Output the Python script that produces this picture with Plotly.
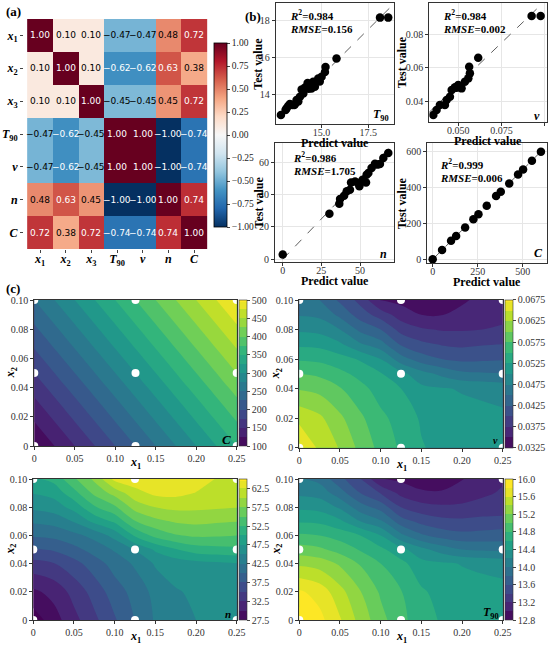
import plotly.graph_objects as go

W, H = 550, 645
SERIF = "Liberation Serif"

# ---------------- (a) correlation matrix ----------------
var_ticktext = [
    "<b><i>x</i><sub>1</sub></b>", "<b><i>x</i><sub>2</sub></b>", "<b><i>x</i><sub>3</sub></b>",
    "<b><i>T</i><sub>90</sub></b>", "<b><i>v</i></b>", "<b><i>n</i></b>", "<b><i>C</i></b>",
]
corr_x1 = [1.00, 0.10, 0.10, -0.47, -0.47, 0.48, 0.72]
corr_x2 = [0.10, 1.00, 0.10, -0.62, -0.62, 0.63, 0.38]
corr_x3 = [0.10, 0.10, 1.00, -0.45, -0.45, 0.45, 0.72]
corr_t90 = [-0.47, -0.62, -0.45, 1.00, 1.00, -1.00, -0.74]
corr_v = [-0.47, -0.62, -0.45, 1.00, 1.00, -1.00, -0.74]
corr_n = [0.48, 0.63, 0.45, -1.00, -1.00, 1.00, 0.74]
corr_c = [0.72, 0.38, 0.72, -0.74, -0.74, 0.74, 1.00]
corr = [corr_x1, corr_x2, corr_x3, corr_t90, corr_v, corr_n, corr_c]

rdbu_r = [
    [0.0, "#053061"], [0.1, "#2166ac"], [0.2, "#4393c3"], [0.3, "#92c5de"],
    [0.4, "#d1e5f0"], [0.5, "#f7f7f7"], [0.6, "#fddbc7"], [0.7, "#f4a582"],
    [0.8, "#d6604d"], [0.9, "#b2182b"], [1.0, "#67001f"],
]

# ---------------- (b) predicted vs test ----------------
t90_pred = [12.82, 13.07, 13.12, 13.21, 13.30, 13.43, 13.54, 13.57, 13.66, 13.75, 13.84, 13.93,
            14.02, 14.11, 14.25, 14.30, 14.46, 14.55, 14.64, 14.82, 14.90, 15.00, 15.18, 15.21,
            15.80, 18.13, 18.57]
t90_test = [12.89, 13.16, 13.25, 13.38, 13.48, 13.43, 13.43, 13.48, 13.70, 13.62, 13.87, 14.27,
            14.05, 14.37, 14.62, 14.30, 14.32, 14.68, 14.41, 14.86, 14.70, 14.95, 15.21, 15.48,
            15.93, 18.13, 18.13]
v_pred = [0.0356, 0.0375, 0.0394, 0.0423, 0.0433, 0.0452, 0.0462, 0.0481, 0.0500, 0.0490,
          0.0519, 0.0538, 0.0558, 0.0567, 0.0563, 0.0615, 0.0923, 0.0975]
v_test = [0.0316, 0.0346, 0.0376, 0.0376, 0.0406, 0.0426, 0.0466, 0.0482, 0.0496, 0.0480,
          0.0476, 0.0516, 0.0536, 0.0566, 0.0606, 0.0660, 0.0910, 0.0910]
n_pred = [0.0, 30.2, 36.6, 37.1, 39.7, 41.4, 43.5, 44.2, 46.8, 48.9, 49.6, 51.7, 53.9, 54.3,
          55.4, 57.5, 59.7, 61.2, 62.9, 65.1, 68.3]
n_test = [2.9, 28.2, 34.4, 37.3, 39.4, 42.1, 43.1, 47.6, 48.2, 47.2, 45.2, 49.3, 47.6, 52.4,
          53.4, 56.5, 59.2, 58.6, 59.0, 62.7, 65.8]
c_pred = [0, 52, 102, 130, 180, 226, 254, 300, 352, 378, 425, 474, 502, 551, 601]
c_test = [0, 52, 104, 130, 178, 223, 252, 299, 353, 377, 423, 473, 501, 550, 600]

fit_r2 = ["0.984", "0.984", "0.986", "0.999"]
fit_rmse = ["0.156", "0.002", "1.705", "0.006"]

# ---------------- (c) response surfaces ----------------
grid_x1 = [0, 0.025, 0.05, 0.075, 0.1, 0.125, 0.15, 0.175, 0.2, 0.225, 0.25]
grid_x2 = [0, 0.02, 0.04, 0.05, 0.06, 0.07, 0.08, 0.09, 0.10]

c_x1 = [0, 0.05, 0.10, 0.15, 0.20, 0.25]
c_x2 = [0, 0.02, 0.04, 0.06, 0.08, 0.10]
c_surface = [
    [100, 150, 200, 250, 300, 350],
    [130, 180, 230, 280, 330, 380],
    [160, 210, 260, 310, 360, 410],
    [190, 240, 290, 340, 390, 440],
    [220, 270, 320, 370, 420, 470],
    [250, 300, 350, 400, 450, 500],
]

v_surface = [
    [0.0675, 0.0645, 0.0623, 0.0593, 0.0567, 0.0546, 0.0527, 0.0518, 0.0512, 0.0509, 0.0507],
    [0.0643, 0.0630, 0.0605, 0.0580, 0.0556, 0.0540, 0.0522, 0.0512, 0.0509, 0.0507, 0.0505],
    [0.0598, 0.0592, 0.0577, 0.0558, 0.0539, 0.0525, 0.0506, 0.0502, 0.0498, 0.0495, 0.0491],
    [0.0575, 0.0570, 0.0557, 0.0542, 0.0527, 0.0507, 0.0485, 0.0469, 0.0456, 0.0453, 0.0451],
    [0.0547, 0.0544, 0.0535, 0.0522, 0.0500, 0.0461, 0.0437, 0.0425, 0.0419, 0.0421, 0.0423],
    [0.0520, 0.0518, 0.0504, 0.0478, 0.0460, 0.0422, 0.0406, 0.0398, 0.0395, 0.0398, 0.0400],
    [0.0496, 0.0492, 0.0475, 0.0444, 0.0425, 0.0391, 0.0378, 0.0373, 0.0373, 0.0375, 0.0377],
    [0.0473, 0.0469, 0.0444, 0.0413, 0.0389, 0.0363, 0.0350, 0.0349, 0.0357, 0.0366, 0.0371],
    [0.0458, 0.0450, 0.0420, 0.0392, 0.0348, 0.0343, 0.0337, 0.0337, 0.0346, 0.0357, 0.0367],
]

n_surface = [
    [26.0, 28.9, 31.7, 34.4, 37.2, 40.1, 42.8, 44.3, 45.0, 45.4, 45.6],
    [29.5, 30.8, 33.4, 36.0, 38.8, 40.9, 43.3, 44.8, 45.4, 45.6, 45.8],
    [34.2, 34.9, 36.6, 38.8, 41.0, 42.9, 45.3, 46.1, 46.6, 47.0, 47.4],
    [37.2, 37.8, 39.2, 41.0, 42.8, 45.2, 47.9, 49.8, 51.3, 51.7, 51.9],
    [40.3, 40.7, 41.8, 43.3, 45.9, 50.4, 53.3, 54.8, 55.4, 55.3, 55.0],
    [42.9, 43.4, 45.2, 48.2, 50.5, 54.9, 56.8, 57.8, 58.1, 57.8, 57.6],
    [45.5, 46.2, 48.4, 52.2, 54.5, 58.5, 60.0, 60.6, 60.5, 60.3, 60.1],
    [47.6, 48.4, 51.6, 55.6, 58.4, 61.6, 63.1, 63.2, 62.4, 61.3, 60.8],
    [49.6, 50.7, 54.6, 58.0, 63.2, 64.0, 64.6, 64.6, 63.6, 62.4, 61.2],
]

t90_surface = [
    [16.15, 15.86, 15.62, 15.33, 15.07, 14.86, 14.68, 14.58, 14.52, 14.49, 14.47],
    [15.83, 15.72, 15.47, 15.21, 14.97, 14.81, 14.63, 14.53, 14.49, 14.47, 14.46],
    [15.36, 15.31, 15.17, 14.98, 14.80, 14.66, 14.47, 14.43, 14.39, 14.36, 14.33],
    [15.09, 15.04, 14.92, 14.78, 14.65, 14.46, 14.26, 14.11, 14.00, 13.97, 13.95],
    [14.83, 14.80, 14.72, 14.60, 14.40, 14.05, 13.83, 13.72, 13.66, 13.67, 13.69],
    [14.58, 14.56, 14.44, 14.20, 14.03, 13.69, 13.54, 13.46, 13.44, 13.47, 13.48],
    [14.36, 14.33, 14.17, 13.89, 13.72, 13.40, 13.28, 13.24, 13.24, 13.26, 13.28],
    [14.16, 14.12, 13.89, 13.60, 13.39, 13.14, 13.03, 13.02, 13.09, 13.17, 13.22],
    [14.02, 13.94, 13.66, 13.41, 13.01, 12.96, 12.91, 12.91, 12.99, 13.09, 13.18],
]

design_x1 = [0, 0, 0, 0.125, 0.125, 0.125, 0.25, 0.25, 0.25]
design_x2 = [0, 0.05, 0.1, 0, 0.05, 0.1, 0, 0.05, 0.1]


def px(x):
    return x / W


def py(y):
    return 1 - y / H


def note(x, y, text, size, angle=0, anchor="center"):
    return dict(x=px(x), y=py(y), xref="paper", yref="paper", xanchor=anchor, yanchor="middle",
                showarrow=False, text=text, textangle=angle,
                font=dict(family=SERIF, size=size, color="black"))


fig = go.Figure()
annotations = []

# heatmap
fig.add_trace(go.Heatmap(
    z=corr, x=list(range(7)), y=list(range(7)), colorscale=rdbu_r, zmin=-1, zmax=1,
    xaxis="x", yaxis="y", showscale=True, hoverinfo="skip",
    colorbar=dict(x=px(214), xanchor="left", y=py(135), yanchor="middle", len=184 / H,
                  thickness=13, xpad=0, ypad=0, outlinewidth=0.8, outlinecolor="black",
                  tickvals=[-1, -0.75, -0.5, -0.25, 0, 0.25, 0.5, 0.75, 1],
                  tickformat=".2f", ticks="outside", ticklen=3,
                  tickfont=dict(family=SERIF, size=9.5, color="#222")),
))
for i, row in enumerate(corr):
    for j, val in enumerate(row):
        annotations.append(dict(
            x=j, y=i, xref="x", yref="y", showarrow=False,
            text=f"{val:.2f}".replace("-", "\u2212"),
            font=dict(family="DejaVu Sans", size=9, color="white" if abs(val) > 0.5 else "black"),
        ))

# scatter panels
panels_b = [
    dict(pred=t90_pred, test=t90_test, ax="2", xd=(275.7, 394), yd=(3.3, 124),
         xr=[12.54, 18.88], yr=[12.41, 18.9], xt=2.5, yt=2, xf=".1f", yf="d",
         tag="<b><i>T</i><sub>90</sub></b>", tagpos=(381, 115), txt=(288, 15), ylab=258),
    dict(pred=v_pred, test=v_test, ax="3", xd=(429.3, 546.7), yd=(2.7, 121.7),
         xr=[0.0333, 0.101], yr=[0.0276, 0.099], xt=0.025, yt=0.02, xf=".3f", yf=".2f",
         tag="<b><i>v</i></b>", tagpos=(537, 116), txt=(441, 15), ylab=402),
    dict(pred=n_pred, test=n_test, ax="4", xd=(275, 394), yd=(143.3, 261.7),
         xr=[-5, 72], yr=[-1.5, 71.8], xt=25, yt=20, xf="d", yf="d",
         tag="<b><i>n</i></b>", tagpos=(383, 254), txt=(291, 157), ylab=258),
    dict(pred=c_pred, test=c_test, ax="5", xd=(427.3, 546.7), yd=(143.3, 263.3),
         xr=[-30, 633], yr=[-22, 647], xt=250, yt=200, xf="d", yf="d",
         tag="<b><i>C</i></b>", tagpos=(538, 253), txt=(438, 164), ylab=402),
]
axis_style = dict(showline=True, mirror=True, linecolor="#333", linewidth=1, ticks="outside",
                  ticklen=3, tickcolor="#333", tickfont=dict(family=SERIF, size=10, color="#333"),
                  zeroline=False, automargin=False)
layout_axes = {}
for k, p in enumerate(panels_b):
    ax = p["ax"]
    lo = min(min(p["pred"]), min(p["test"]))
    hi = min(p["xr"][1], p["yr"][1])
    fig.add_trace(go.Scatter(x=[lo, hi], y=[lo, hi], mode="lines", xaxis="x" + ax, yaxis="y" + ax,
                             line=dict(color="#333", width=0.8, dash="dash"), showlegend=False))
    fig.add_trace(go.Scatter(x=p["pred"], y=p["test"], mode="markers", xaxis="x" + ax,
                             yaxis="y" + ax, marker=dict(color="black", size=8.5),
                             showlegend=False))
    layout_axes["xaxis" + ax] = dict(domain=[px(p["xd"][0]), px(p["xd"][1])], anchor="y" + ax,
                                     range=p["xr"], dtick=p["xt"], tick0=0, tickformat=p["xf"],
                                     showgrid=True, gridcolor="#e6e6e6", gridwidth=0.8,
                                     ticklabelstandoff=-4, **axis_style)
    layout_axes["yaxis" + ax] = dict(domain=[py(p["yd"][1]), py(p["yd"][0])], anchor="x" + ax,
                                     range=p["yr"], dtick=p["yt"], tick0=0, tickformat=p["yf"],
                                     showgrid=True, gridcolor="#e6e6e6", gridwidth=0.8,
                                     **axis_style)
    tx, ty = p["txt"]
    annotations.append(note(tx, ty, f"<b><i>R</i><sup>2</sup>={fit_r2[k]}</b>", 11,
                            anchor="left"))
    annotations.append(note(tx, ty + 14, f"<b><i>RMSE</i>={fit_rmse[k]}</b>", 11,
                            anchor="left"))
    annotations.append(note(p["tagpos"][0], p["tagpos"][1], p["tag"], 12))
    cx = (p["xd"][0] + p["xd"][1]) / 2
    annotations.append(note(cx, p["yd"][1] + 19, "<b>Predict value</b>", 12))
    cy = (p["yd"][0] + p["yd"][1]) / 2
    annotations.append(note(p["ylab"], cy, "<b>Test value</b>", 12, angle=-90))

# contour panels
panels_c = [
    dict(x=c_x1, y=c_x2, z=c_surface, ax="6", xd=(34.3, 236.7), yd=(300, 446),
         start=100, end=500, size=25, ticks=[100, 150, 200, 250, 300, 350, 400, 450, 500],
         fmt="d", tag="<b><i>C</i></b>", tagsize=13, tagpos=(226, 439)),
    dict(x=grid_x1, y=grid_x2, z=v_surface, ax="7", xd=(299.3, 502.7), yd=(300, 447.7),
         start=0.0325, end=0.0675, size=0.0025,
         ticks=[0.0325, 0.0375, 0.0425, 0.0475, 0.0525, 0.0575, 0.0625, 0.0675],
         fmt=".4f", tag="<b><i>v</i></b>", tagsize=10, tagpos=(495, 441)),
    dict(x=grid_x1, y=grid_x2, z=n_surface, ax="8", xd=(33.3, 236.7), yd=(479, 620),
         start=27.5, end=65, size=2.5, ticks=[27.5, 32.5, 37.5, 42.5, 47.5, 52.5, 57.5, 62.5],
         fmt=".1f", tag="<b><i>n</i></b>", tagsize=11, tagpos=(228, 614)),
    dict(x=grid_x1, y=grid_x2, z=t90_surface, ax="9", xd=(299.3, 502.7), yd=(479, 620),
         start=12.8, end=16.0, size=0.2,
         ticks=[12.8, 13.2, 13.6, 14.0, 14.4, 14.8, 15.2, 15.6, 16.0],
         fmt=".1f", tag="<b><i>T</i><sub>90</sub></b>", tagsize=12, tagpos=(491, 613)),
]
for p in panels_c:
    ax = p["ax"]
    y0, y1 = p["yd"]
    fig.add_trace(go.Contour(
        x=p["x"], y=p["y"], z=p["z"], xaxis="x" + ax, yaxis="y" + ax,
        colorscale="Viridis", zmin=p["start"], zmax=p["end"], hoverinfo="skip",
        contours=dict(start=p["start"], end=p["end"], size=p["size"], coloring="fill",
                      showlines=False),
        line=dict(width=0, smoothing=1.0),
        colorbar=dict(x=px(p["xd"][1] + 2.6), xanchor="left", y=py((y0 + y1) / 2),
                      yanchor="middle", len=(y1 - y0) / H, thickness=7.5, xpad=0, ypad=0,
                      outlinewidth=0.6, outlinecolor="#333", tickvals=p["ticks"],
                      tickformat=p["fmt"], ticks="outside", ticklen=3,
                      tickfont=dict(family=SERIF, size=10, color="#333")),
    ))
    fig.add_trace(go.Scatter(x=design_x1, y=design_x2, mode="markers", xaxis="x" + ax,
                             yaxis="y" + ax, marker=dict(color="white", size=8),
                             showlegend=False))
    layout_axes["xaxis" + ax] = dict(domain=[px(p["xd"][0]), px(p["xd"][1])], anchor="y" + ax,
                                     range=[0, 0.25], tickvals=[0, 0.05, 0.1, 0.15, 0.2, 0.25],
                                     ticktext=["0", "0.05", "0.10", "0.15", "0.20", "0.25"],
                                     showgrid=False, **axis_style)
    layout_axes["yaxis" + ax] = dict(domain=[py(y1), py(y0)], anchor="x" + ax, range=[0, 0.1],
                                     tickvals=[0, 0.02, 0.04, 0.06, 0.08, 0.1],
                                     ticktext=["0", "0.02", "0.04", "0.06", "0.08", "0.10"],
                                     showgrid=False, **axis_style)
    annotations.append(note(p["tagpos"][0], p["tagpos"][1], p["tag"], p["tagsize"]))
    cx = (p["xd"][0] + p["xd"][1]) / 2
    annotations.append(note(cx, y1 + 17, "<b><i>x</i><sub>1</sub></b>", 12))
    annotations.append(note(p["xd"][0] - 23, (y0 + y1) / 2, "<b><i>x</i><sub>2</sub></b>", 12,
                            angle=-90))

for label, (lx, ly) in [("(a)", (4, 12)), ("(b)", (243, 17)), ("(c)", (4, 288))]:
    annotations.append(note(lx, ly, f"<b>{label}</b>", 13, anchor="left"))

fig.update_layout(
    template="none",
    width=W, height=H, margin=dict(l=0, r=0, t=0, b=0, autoexpand=False),
    paper_bgcolor="white", plot_bgcolor="white", showlegend=False,
    font=dict(family=SERIF, color="black"),
    xaxis=dict(domain=[px(24), px(210)], anchor="y", tickvals=list(range(7)),
               ticktext=var_ticktext, ticks="outside", ticklen=3, showgrid=False,
               zeroline=False, automargin=False, showline=False, ticklabelstandoff=-4,
               tickfont=dict(family=SERIF, size=12, color="black")),
    yaxis=dict(domain=[py(249), py(19)], anchor="x", tickvals=list(range(7)),
               ticktext=var_ticktext, ticks="outside", ticklen=3, showgrid=False,
               zeroline=False, autorange="reversed", automargin=False, showline=False,
               tickfont=dict(family=SERIF, size=12, color="black")),
    annotations=annotations,
    **layout_axes,
)

# the page body has a default 8px margin; drop it so the 550x645 figure fills the window
fig.write_html("out.html", config={"displayModeBar": False},
               post_script="document.body.style.margin = '0';")
